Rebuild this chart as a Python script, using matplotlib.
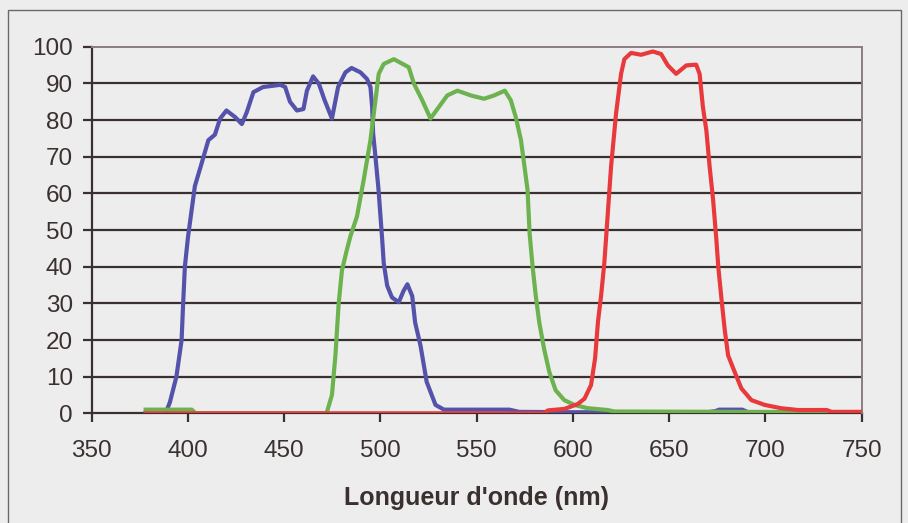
import matplotlib.pyplot as plt
from matplotlib.patches import Rectangle

plt.rcParams['font.family'] = ['Liberation Sans', 'DejaVu Sans']

# transmission curves (wavelength nm, %)
blue_nm = [378, 385, 388, 390.6, 394, 396.7, 397.5, 398.4, 400, 403.6, 407, 410.6, 414, 416.7,
           420, 424.5, 428, 430.6, 434, 439, 448, 450.5, 453, 456.6, 460, 461.8, 465, 468,
           471, 474.8, 478, 481.8, 485, 489.6, 493, 494.8, 495.7, 496.2, 497.4, 499, 500.9,
           501.7, 503.5, 506, 509.5, 512, 514, 516.5, 518, 520.8, 524, 528.6, 533, 567, 572,
           600, 670, 674, 676, 688, 691, 716, 718, 725, 727, 750]
blue_val = [0, -0.5, -0.5, 3, 10, 20, 30, 40, 48, 62, 68, 74.5, 76, 80.4,
            82.6, 80.8, 78.9, 82.2, 87.6, 89, 89.6, 89, 85, 82.6, 83, 88, 91.9, 89.9,
            85.4, 80.4, 89, 93, 94.2, 93, 91.2, 89, 83.5, 76.3, 70, 61, 47.4,
            41, 34.8, 31.6, 30.3, 33.4, 35.2, 32, 24.8, 18.5, 8.6, 2.3, 1, 1, 0.4,
            0.3, 0.3, 0.6, 1, 1, 0.3, 0.3, 0.7, 0.7, 0.3, 0.3]

green_nm = [378, 402, 404, 472, 474.8, 476.6, 478.3, 480, 482.6, 484.4, 487.8, 491.3, 494.8,
            497.4, 499.1, 501.7, 507, 514.7, 517.4, 521.7, 526, 530.4, 534.7, 540, 547,
            553.8, 559, 564.6, 567.7, 570.3, 573, 574.6, 576.4, 577.5, 579, 580.7, 582.5,
            585, 587.7, 591, 595.5, 600.7, 607.6, 618, 621.5, 750]
green_val = [1, 1, 0, 0, 5, 15.8, 30, 39, 44.7, 48.3, 53.7, 63.7, 74.5,
             85.4, 92.6, 95.3, 96.6, 94.4, 89.9, 85.4, 80.4, 83.6, 86.7, 88, 86.7,
             85.8, 86.7, 88, 85.4, 80.8, 74.5, 68.2, 61, 49, 40.2, 32, 24.8,
             17.6, 11.3, 6.3, 3.6, 2.3, 1.4, 0.9, 0.5, 0.3]

red_nm = [378, 585, 587, 595.5, 602.4, 606, 609.4, 611.5, 613, 614.6, 616.3, 617.5, 619.8,
          622.4, 625, 626.7, 630.2, 635.4, 641.5, 645.8, 649.3, 653.6, 658.9, 664, 665.8,
          667.5, 669.3, 671, 672.8, 674.5, 675.5, 677, 678.8, 680.6, 684, 687.5, 692.7,
          699.6, 708, 717, 731.8, 734.4, 750]
red_val = [0, 0, 0.8, 1.2, 2.5, 4, 7.7, 15, 25, 32, 41, 50, 67.3,
           81.8, 92.6, 96.6, 98.3, 97.8, 98.7, 98, 94.9, 92.6, 94.9, 95.1, 92.6,
           83.6, 77.2, 67.3, 58.3, 47.4, 40, 32, 23, 15.8, 11.3, 6.8, 3.6,
           2.3, 1.4, 0.9, 0.9, 0.4, 0.4]

x_ticks = [350, 400, 450, 500, 550, 600, 650, 700, 750]
y_ticks = [0, 10, 20, 30, 40, 50, 60, 70, 80, 90, 100]

bg = '#ededed'
dark = '#3b3030'
frame = '#8a7c86'

fig = plt.figure(figsize=(9.08, 5.23), dpi=100, facecolor=bg)
ax = fig.add_axes([0.101, 0.2097, 0.848, 0.701])
ax.set_facecolor(bg)

# outer chart frame
fig.patches.append(Rectangle((8 / 908, -0.02), 893 / 908, 1.02 - 10 / 523,
                             transform=fig.transFigure, fill=False,
                             edgecolor='#6e6868', lw=1.0))

ax.hlines(y_ticks[1:-1], 350, 750, colors=dark, lw=1.6, zorder=1)

ax.plot(blue_nm, blue_val, color='#5452aa', lw=3.0, zorder=3, solid_joinstyle='round')
ax.plot(green_nm, green_val, color='#6cb24e', lw=3.0, zorder=4, solid_joinstyle='round')
ax.plot(red_nm, red_val, color='#e83a3c', lw=3.0, zorder=5, solid_joinstyle='round')

ax.set_xlim(350, 750)
ax.set_ylim(0, 100)
ax.set_xticks(x_ticks)
ax.set_yticks(y_ticks)

for s in ['left', 'bottom']:
    ax.spines[s].set_color(dark)
    ax.spines[s].set_linewidth(1.6)
for s in ['top', 'right']:
    ax.spines[s].set_color(frame)
    ax.spines[s].set_linewidth(1.4)
ax.spines['bottom'].set_zorder(2)

ax.tick_params(axis='both', direction='out', length=6.5, width=1.6, color=dark,
               labelsize=17.5, labelcolor=dark)
ax.tick_params(axis='x', pad=13)
ax.tick_params(axis='y', pad=7)

ax.set_xlabel("Longueur d'onde (nm)", fontsize=18, fontweight='bold', color=dark, labelpad=17)

plt.savefig('out.png', dpi=100, facecolor=bg)
